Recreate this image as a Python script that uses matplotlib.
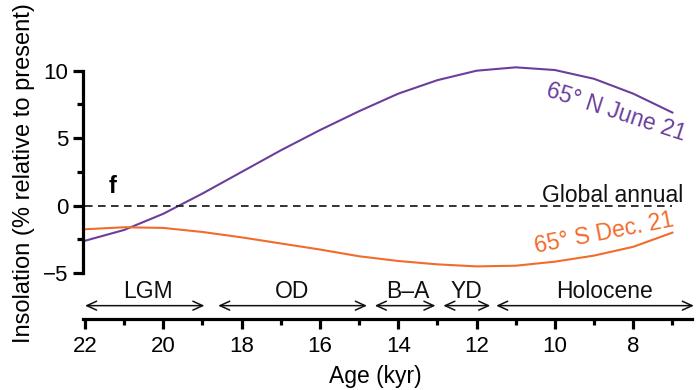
import numpy as np
import matplotlib
matplotlib.use('Agg')
import matplotlib.pyplot as plt
from matplotlib.ticker import MultipleLocator

plt.rcParams['font.family'] = ['Liberation Sans', 'DejaVu Sans']

# insolation data, % relative to present
age = [22, 21, 20, 19, 18, 17, 16, 15, 14, 13, 12, 11, 10, 9, 8, 7]
north_june = [-2.6, -1.8, -0.6, 0.9, 2.5, 4.1, 5.6, 7.0, 8.3, 9.3, 10.0, 10.25, 10.05, 9.4, 8.3, 6.9]
south_dec = [-1.75, -1.6, -1.65, -1.95, -2.35, -2.8, -3.25, -3.75, -4.1, -4.35, -4.5, -4.45, -4.15, -3.7, -3.05, -2.0]

# climate periods (start, end in kyr)
periods = ['LGM', 'OD', 'B\u2013A', 'YD', 'Holocene']
period_start = [22.0, 18.6, 14.6, 12.85, 11.5]
period_end = [18.95, 14.8, 13.05, 11.65, 6.45]
label_pos = [20.4, 16.7, 13.75, 12.25, 8.73]

purple = '#6a3f9c'
orange = '#f26b2b'

fig = plt.figure(figsize=(7, 3.9), dpi=100)
ax = fig.add_axes([0.1181, 0.182, 0.8704, 0.6713])

ax.plot(age, north_june, color=purple, lw=1.5)
ax.plot(age, south_dec, color=orange, lw=1.5)
ax.plot([22, 7], [0, 0], color='#222222', lw=1.3, ls=(0, (4.2, 3)))

ax.set_xlim(22.06, 6.5)
ax.set_ylim(-8.4, 11)

for s in ['top', 'right']:
    ax.spines[s].set_visible(False)
ax.spines['left'].set_bounds(-5, 10)
for s in ['left', 'bottom']:
    ax.spines[s].set_linewidth(2.3)

ax.xaxis.set_major_locator(MultipleLocator(2))
ax.xaxis.set_minor_locator(MultipleLocator(1))
ax.set_yticks([-5, 0, 5, 10])
ax.set_yticklabels(['\u22125', '0', '5', '10'])
ax.set_yticks([-2.5, 2.5, 7.5], minor=True)
ax.tick_params(which='major', length=7.5, width=2.3, labelsize=16)
ax.tick_params(which='minor', length=4, width=2.3)
ax.tick_params(axis='y', pad=3)
ax.tick_params(axis='x', pad=5)

ax.set_ylabel('Insolation (% relative to present)', fontsize=17)
ax.yaxis.set_label_coords(-0.078, 0.558)
ax.set_xlabel('Age (kyr)', fontsize=16.5)
ax.xaxis.set_label_coords(0.481, -0.175)

# period arrows
for name, a, b, c in zip(periods, period_start, period_end, label_pos):
    ax.annotate('', xy=(b, -7.41), xytext=(a, -7.41), annotation_clip=False,
                arrowprops=dict(arrowstyle='<->,head_length=0.7,head_width=0.32',
                                lw=1.1, color='#111111', shrinkA=0, shrinkB=0))
    ax.text(c, -6.81, name, ha='center', va='baseline', fontsize=16.5, color='#111111')

ax.text(21.29, 0.94, 'f', fontsize=17, fontweight='bold', ha='center', va='baseline')
ax.text(6.72, 0.75, 'Global annual', fontsize=16.5, ha='right', va='center', color='#111111')
ax.text(8.45, 6.95, '65\u00b0 N June 21', fontsize=16.5, color=purple,
        ha='center', va='center', rotation=-18)
ax.text(8.75, -2.0, '65\u00b0 S Dec. 21', fontsize=16.5, color=orange,
        ha='center', va='center', rotation=11)

fig.savefig('out.png', dpi=100)
